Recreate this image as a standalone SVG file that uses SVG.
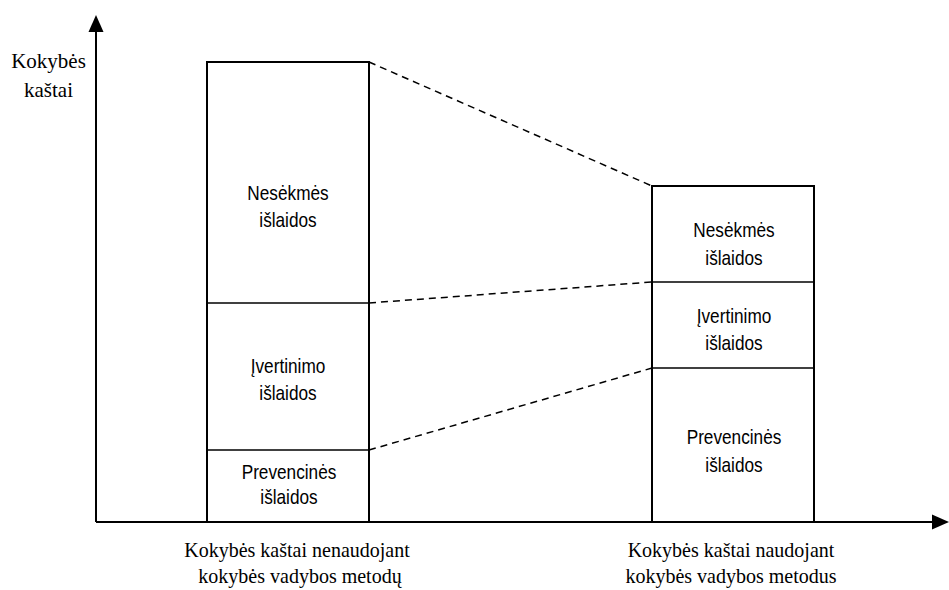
<svg xmlns="http://www.w3.org/2000/svg" width="949" height="590" viewBox="0 0 949 590">
  <style>
    .axis { stroke: #000; stroke-width: 2; fill: none; }
    .box { stroke: #000; stroke-width: 2; fill: #fff; }
    .div { stroke: #000; stroke-width: 1.5; }
    .dash { stroke: #000; stroke-width: 1.5; stroke-dasharray: 7 5; fill: none; }
    .lbl { font-family: "Liberation Sans", Arial, sans-serif; font-size: 21px; fill: #000; text-anchor: middle; }
    .cap { font-family: "Liberation Serif", "Times New Roman", serif; font-size: 22px; fill: #000; text-anchor: middle; }
    .ylab { font-family: "Liberation Serif", "Times New Roman", serif; font-size: 21px; fill: #000; text-anchor: middle; }
  </style>

  <!-- axes -->
  <g id="axes">
    <line class="axis" x1="96" y1="522" x2="96" y2="30"/>
    <path d="M88.5,32 L96,15 L103.5,32 Z" fill="#000"/>
    <line class="axis" x1="96" y1="522" x2="934" y2="522"/>
    <path d="M932,514.5 L949,522 L932,529.5 Z" fill="#000"/>
    <text class="ylab" x="48.5" y="68">Kokybės</text>
    <text class="ylab" x="48.5" y="97">kaštai</text>
  </g>

  <!-- dashed connectors between the two bars -->
  <g id="connectors">
    <line class="dash" x1="369" y1="62" x2="652" y2="186"/>
    <line class="dash" x1="369" y1="303" x2="652" y2="282"/>
    <line class="dash" x1="369" y1="450" x2="652" y2="368"/>
  </g>

  <!-- bar: costs without quality management -->
  <g id="bar-before">
    <rect class="box" x="207" y="62" width="162" height="460"/>
    <line class="div" x1="207" y1="303" x2="369" y2="303"/>
    <line class="div" x1="207" y1="450" x2="369" y2="450"/>
    <text class="lbl" transform="translate(288,200) scale(0.82,1)">Nesėkmės</text>
    <text class="lbl" transform="translate(288,227) scale(0.82,1)">išlaidos</text>
    <text class="lbl" transform="translate(288,373) scale(0.82,1)">Įvertinimo</text>
    <text class="lbl" transform="translate(288,400) scale(0.82,1)">išlaidos</text>
    <text class="lbl" transform="translate(289,479) scale(0.82,1)">Prevencinės</text>
    <text class="lbl" transform="translate(289,504) scale(0.82,1)">išlaidos</text>
    <text class="cap" transform="translate(297,557) scale(0.91,1)">Kokybės kaštai nenaudojant</text>
    <text class="cap" transform="translate(300,583) scale(0.91,1)">kokybės vadybos metodų</text>
  </g>

  <!-- bar: costs with quality management -->
  <g id="bar-after">
    <rect class="box" x="652" y="186" width="162" height="336"/>
    <line class="div" x1="652" y1="282" x2="814" y2="282"/>
    <line class="div" x1="652" y1="368" x2="814" y2="368"/>
    <text class="lbl" transform="translate(734,237) scale(0.82,1)">Nesėkmės</text>
    <text class="lbl" transform="translate(734,265) scale(0.82,1)">išlaidos</text>
    <text class="lbl" transform="translate(734,323) scale(0.82,1)">Įvertinimo</text>
    <text class="lbl" transform="translate(734,350) scale(0.82,1)">išlaidos</text>
    <text class="lbl" transform="translate(734,444) scale(0.82,1)">Prevencinės</text>
    <text class="lbl" transform="translate(734,472) scale(0.82,1)">išlaidos</text>
    <text class="cap" transform="translate(731,557) scale(0.91,1)">Kokybės kaštai naudojant</text>
    <text class="cap" transform="translate(731,583) scale(0.91,1)">kokybės vadybos metodus</text>
  </g>
</svg>
